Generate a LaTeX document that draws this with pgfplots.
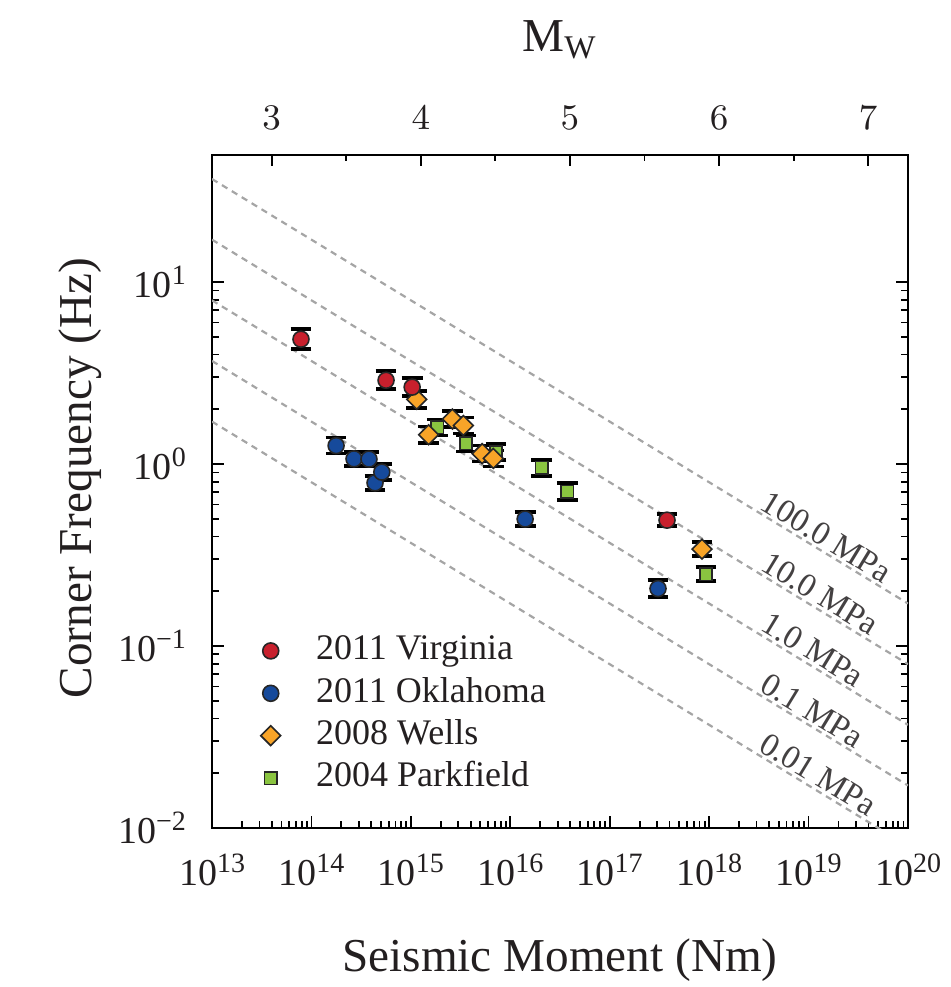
\documentclass[border=0pt]{standalone}
\usepackage{fontspec}
\setmainfont{Liberation Serif}
\usepackage{pgfplots}
\pgfplotsset{compat=1.18}
\usepackage{pgfplotstable}

\definecolor{cred}{RGB}{200,32,45}
\definecolor{cblue}{RGB}{22,74,155}
\definecolor{corange}{RGB}{248,164,40}
\definecolor{cgreen}{RGB}{138,196,64}
\definecolor{sgray}{RGB}{165,165,165}
\definecolor{txt}{RGB}{35,31,32}

\pgfplotstableread{
x y ep em
7.85e13 4.86 0.656 0.578
5.63e14 2.89 0.348 0.311
1.03e15 2.65 0.319 0.285
3.77e17 0.492 0.0388 0.036
}\virginia

\pgfplotstableread{
x y ep em
1.77e14 1.264 0.135 0.121
2.68e14 1.069 0.099 0.091
3.79e14 1.066 0.099 0.090
4.36e14 0.789 0.073 0.067
5.1e14 0.904 0.096 0.087
1.41e16 0.499 0.046 0.042
3.06e17 0.207 0.0235 0.0211
}\oklahoma

\pgfplotstableread{
x y ep em
1.146e15 2.27 0.257 0.231
1.51e15 1.45 0.164 0.148
2.62e15 1.77 0.188 0.170
3.37e15 1.63 0.174 0.156
5.21e15 1.142 0.122 0.110
6.75e15 1.075 0.114 0.103
8.47e17 0.341 0.0316 0.0289
}\wells

\pgfplotstableread{
x y ep em
1.84e15 1.59 0.169 0.153
3.59e15 1.30 0.138 0.125
7.18e15 1.164 0.124 0.112
2.07e16 0.954 0.102 0.092
3.74e16 0.705 0.080 0.072
9.29e17 0.248 0.023 0.021
}\parkfield

\newcommand{\tickfont}{\fontsize{9.5}{11}\selectfont}
\newcommand{\legfont}{\fontsize{9}{10.5}\selectfont}
\newcommand{\labfont}{\fontsize{11.8}{13}\selectfont}
\newcommand{\tl}[1]{10\raisebox{3.3pt}{\fontsize{7}{8}\selectfont #1}}

\begin{document}
\begin{tikzpicture}
\useasboundingbox (-53pt,-39.75pt) rectangle (184.75pt,207pt);
\begin{axis}[
  at={(0,0)}, anchor=south west,
  scale only axis, width=174pt, height=168.25pt,
  xmode=log, ymode=log,
  xmin=1e13, xmax=1e20, ymin=1e-2, ymax=50,
  xtick={1e13,1e14,1e15,1e16,1e17,1e18,1e19,1e20},
  xticklabels={\tl{13},\tl{14},\tl{15},\tl{16},\tl{17},\tl{18},\tl{19},\tl{20}},
  ytick={1e-2,1e-1,1,10},
  yticklabels={\tl{−2},\tl{−1},\tl{0},\tl{1}},
  xtick pos=left,
  tick align=inside,
  major tick length=3pt, minor tick length=1.75pt,
  every tick/.style={black, line width=0.45pt},
  axis line style={line width=0.7pt, black},
  tick label style={font=\tickfont, text=txt},
  xticklabel style={yshift=-3pt},
  yticklabel style={xshift=-3pt},
  xlabel={Seismic Moment (Nm)},
  ylabel={Corner Frequency (Hz)},
  label style={font=\labfont, text=txt},
  xlabel style={at={(axis description cs:0.5,-0.196)}, anchor=center},
  ylabel style={at={(axis description cs:-0.19,0.52)}, anchor=center},
  error bars/y dir=both, error bars/y explicit,
  error bars/error bar style={line width=0.5pt, black},
  error bars/error mark options={rotate=90, black, mark size=2.6pt, line width=0.9pt},
  reverse legend,
  legend cell align=left,
  legend style={draw=none, fill=none, inner sep=0pt, font=\legfont,
    at={(axis description cs:0.069,0.2887)}, anchor=north west,
    row sep=2.4pt,
    nodes={inner sep=0pt, text height=6.3pt, text depth=1.9pt, text=txt},
    /tikz/every odd column/.append style={column sep=8.9pt}},
]
% constant stress-drop lines
\addplot[forget plot, sgray, line width=0.55pt, dash pattern=on 1.6pt off 1.3pt] coordinates {(1e13,36.9) (1e20,0.1713)};
\addplot[forget plot, sgray, line width=0.55pt, dash pattern=on 1.6pt off 1.3pt] coordinates {(1e13,17.13) (1e20,0.0795)};
\addplot[forget plot, sgray, line width=0.55pt, dash pattern=on 1.6pt off 1.3pt] coordinates {(1e13,7.95) (1e20,0.0369)};
\addplot[forget plot, sgray, line width=0.55pt, dash pattern=on 1.6pt off 1.3pt] coordinates {(1e13,3.69) (1e20,0.01713)};
\addplot[forget plot, sgray, line width=0.55pt, dash pattern=on 1.6pt off 1.3pt] coordinates {(1e13,1.713) (1e20,0.00795)};

\node[rotate=-31.4, anchor=south, inner sep=0.6pt, font=\fontsize{8.3}{9}\selectfont, text=txt!85] at (axis cs:1.28e19,0.340) {100.0 MPa};
\node[rotate=-31.4, anchor=south, inner sep=0.6pt, font=\fontsize{8.3}{9}\selectfont, text=txt!85] at (axis cs:1.1e19,0.166) {10.0 MPa};
\node[rotate=-31.4, anchor=south, inner sep=0.6pt, font=\fontsize{8.3}{9}\selectfont, text=txt!85] at (axis cs:9.35e18,0.0813) {1.0 MPa};
\node[rotate=-31.4, anchor=south, inner sep=0.6pt, font=\fontsize{8.3}{9}\selectfont, text=txt!85] at (axis cs:9.14e18,0.0380) {0.1 MPa};
\node[rotate=-31.4, anchor=south, inner sep=0.6pt, font=\fontsize{8.3}{9}\selectfont, text=txt!85] at (axis cs:1.05e19,0.01685) {0.01 MPa};

\addplot[only marks, mark=square*, mark size=1.55pt, mark options={fill=cgreen, draw=black!85, line width=0.4pt}]
  table[x=x, y=y, y error plus=ep, y error minus=em] {\parkfield};
\addlegendentry{2004 Parkfield}
\addplot[only marks, mark=square*, mark size=1.75pt, mark options={rotate=45, fill=corange, draw=black!85, line width=0.4pt}]
  table[x=x, y=y, y error plus=ep, y error minus=em] {\wells};
\addlegendentry{2008 Wells}
\addplot[only marks, mark=*, mark size=2pt, mark options={fill=cblue, draw=black!85, line width=0.4pt}]
  table[x=x, y=y, y error plus=ep, y error minus=em] {\oklahoma};
\addlegendentry{2011 Oklahoma}
\addplot[only marks, mark=*, mark size=2pt, mark options={fill=cred, draw=black!85, line width=0.4pt}]
  table[x=x, y=y, y error plus=ep, y error minus=em] {\virginia};
\addlegendentry{2011 Virginia}
\end{axis}

\begin{axis}[
  at={(0,0)}, anchor=south west,
  scale only axis, width=174pt, height=168.25pt,
  xmin=2.6, xmax=7.26667, ymin=0, ymax=1,
  axis x line*=top, axis y line=none,
  xtick={3,4,5,6,7}, minor xtick={3.5,4.5,5.5,6.5},
  tick align=inside,
  major tick length=2.75pt, minor tick length=1.5pt,
  every tick/.style={black, line width=0.45pt},
  axis line style={line width=0.7pt, black},
  tick label style={font=\tickfont, text=txt},
  xticklabel style={yshift=2.8pt},
  xlabel={M\textsubscript{W}},
  xlabel style={font=\labfont, text=txt, at={(axis description cs:0.5,1.171)}, anchor=center},
]
\end{axis}
\end{tikzpicture}
\end{document}
